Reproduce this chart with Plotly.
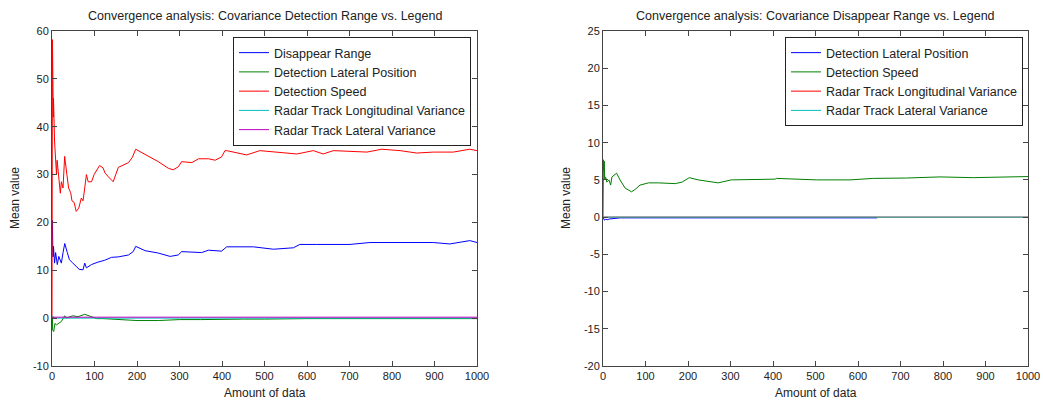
import plotly.graph_objects as go

# ---------------- Left chart data ----------------
left_title = "Convergence analysis: Covariance Detection Range vs. Legend"
left_names = ["Disappear Range", "Detection Lateral Position", "Detection Speed",
              "Radar Track Longitudinal Variance", "Radar Track Lateral Variance"]

l_blue_x = [1, 1.5, 2, 2.5, 3, 3.5, 4, 6, 8.5, 12.5, 16, 22, 26, 30, 36, 41, 49, 57, 64,
            73, 77, 81, 93, 108, 124, 140, 156, 180, 191, 197, 219, 250, 278, 297, 305,
            352, 368, 399, 407, 411, 474, 505, 521, 568, 583, 623, 701, 748, 819, 897,
            936, 983, 1000]
l_blue_y = [20.5, 15.7, 12.8, 15.2, 13.0, 15.0, 12.9, 11.5, 13.7, 11.2, 12.9, 11.5, 13.7,
            15.6, 13.7, 12.2, 11.5, 10.8, 10.2, 10.1, 11.5, 10.5, 11.2, 11.7, 12.1, 12.7,
            12.8, 13.2, 13.9, 15.0, 14.1, 13.6, 12.9, 13.2, 13.9, 13.7, 14.2, 14.0, 14.7,
            14.9, 14.9, 14.6, 14.4, 14.7, 15.4, 15.4, 15.4, 15.8, 15.8, 15.8, 15.5, 16.2,
            15.8]

l_green_x = [1, 1.5, 4, 7, 10.5, 16, 22, 30, 33, 49, 61, 77, 93, 105, 120, 160, 200, 250,
             300, 350, 400, 450, 500, 550, 600, 650, 700, 750, 800, 850, 900, 950, 1000]
l_green_y = [0.3, -2.5, -2.8, -1.1, -1.4, -1.1, -0.7, 0.5, 0.0, 0.5, 0.3, 0.8, 0.3, -0.1,
             -0.1, -0.3, -0.5, -0.5, -0.3, -0.3, -0.2, -0.2, -0.2, -0.1, -0.1, -0.1,
             -0.1, -0.1, -0.1, -0.1, -0.1, -0.1, -0.1]

l_red_x = [0, 1, 1.5, 2, 2.5, 3, 3.5, 6, 8.5, 10.5, 12, 16.5, 19.6, 22, 25.9, 29.8, 32,
           35, 39, 44, 47, 52, 57, 63, 69, 73, 77, 81, 85, 93, 99, 105, 112, 120, 125,
           133, 144, 156, 168, 180, 189, 197, 207, 227, 250, 274, 285, 297, 305, 329,
           345, 368, 384, 399, 407, 411, 458, 489, 544, 576, 615, 638, 662, 741, 776,
           819, 858, 897, 944, 983, 1000]
l_red_y = [0.0, 58.2, 45.0, 42.0, 47.0, 42.0, 46.0, 37.0, 34.2, 30.1, 33.0, 27.9, 26.1,
           28.5, 27.2, 33.8, 31.4, 30.0, 27.2, 26.2, 24.5, 24.2, 22.3, 23.0, 25.1, 24.5,
           27.2, 30.0, 28.5, 28.5, 30.0, 31.0, 31.9, 31.4, 30.3, 29.5, 28.5, 31.5, 32.0,
           32.5, 33.6, 35.3, 34.8, 33.8, 32.7, 31.3, 31.0, 31.6, 32.7, 32.5, 33.3, 33.3,
           33.0, 33.7, 35.0, 35.0, 34.1, 35.0, 34.6, 34.3, 35.0, 34.3, 35.0, 34.7, 35.3,
           35.0, 34.5, 34.7, 34.7, 35.3, 35.0]

l_cyan_x = [1, 2, 5, 10, 100, 300, 500, 700, 1000]
l_cyan_y = [0.5, 0.3, 0.1, 0.0, 0.0, 0.0, 0.0, 0.0, 0.0]

l_mag_x = [1, 250, 500, 750, 1000]
l_mag_y = [0.2, 0.2, 0.2, 0.2, 0.2]

# ---------------- Right chart data ----------------
right_title = "Convergence analysis: Covariance Disappear Range vs. Legend"
right_names = ["Detection Lateral Position", "Detection Speed",
               "Radar Track Longitudinal Variance", "Radar Track Lateral Variance"]

r_blue_x = [1, 3, 6, 10, 15, 20, 30, 40, 100, 300, 500, 645]
r_blue_y = [-0.1, -0.4, -0.3, -0.35, -0.25, -0.2, -0.1, -0.1, -0.1, -0.1, -0.1, -0.1]

r_green_x = [0, 1, 2, 3, 4, 6, 9, 14, 18, 21, 32, 40, 52, 67, 75, 87, 107, 130, 154, 170,
             186, 203, 224, 271, 302, 349, 405, 408, 502, 581, 636, 714, 793, 871, 950, 1000]
r_green_y = [0.0, 7.7, 6.3, 7.5, 5.0, 5.4, 4.7, 5.0, 4.3, 5.4, 5.9, 5.0, 3.9, 3.4, 3.7, 4.3,
             4.6, 4.6, 4.6, 4.5, 4.7, 5.3, 5.0, 4.6, 5.0, 5.0, 5.1, 5.2, 5.0, 5.0, 5.2, 5.25,
             5.4, 5.3, 5.4, 5.45]

r_red_x = [1, 500, 1000]
r_red_y = [0.0, 0.0, 0.0]

r_cyan_x = [1, 250, 500, 750, 1000]
r_cyan_y = [0.0, 0.0, 0.0, 0.0, 0.0]

# ---------------- Tick labels ----------------
x_ticks = [0, 100, 200, 300, 400, 500, 600, 700, 800, 900, 1000]
left_y_ticks = [-10, 0, 10, 20, 30, 40, 50, 60]
right_y_ticks = [-20, -15, -10, -5, 0, 5, 10, 15, 20, 25]

BLUE = "rgb(0,0,255)"
GREEN = "rgb(0,128,0)"
RED = "rgb(255,0,0)"
CYAN = "rgb(0,191,191)"
MAGENTA = "rgb(191,0,191)"

W, H = 1043, 401
FONT = "Liberation Sans, Arial, sans-serif"
AXC = "#444444"
TXT = "#222222"

fig = go.Figure()

def add(x, y, name, color, xa, ya, leg):
    fig.add_trace(go.Scatter(x=x, y=y, name=name, mode="lines",
                             line=dict(color=color, width=1),
                             xaxis=xa, yaxis=ya, legend=leg))

add(l_blue_x, l_blue_y, left_names[0], BLUE, "x", "y", "legend")
add(l_green_x, l_green_y, left_names[1], GREEN, "x", "y", "legend")
add(l_red_x, l_red_y, left_names[2], RED, "x", "y", "legend")
add(l_cyan_x, l_cyan_y, left_names[3], CYAN, "x", "y", "legend")
add(l_mag_x, l_mag_y, left_names[4], MAGENTA, "x", "y", "legend")

add(r_blue_x, r_blue_y, right_names[0], BLUE, "x2", "y2", "legend2")
add(r_green_x, r_green_y, right_names[1], GREEN, "x2", "y2", "legend2")
add(r_red_x, r_red_y, right_names[2], RED, "x2", "y2", "legend2")
add(r_cyan_x, r_cyan_y, right_names[3], CYAN, "x2", "y2", "legend2")

def px_x(p):
    return p / W

def px_y(p):
    return 1 - p / H

axis_common = dict(showline=True, linecolor=AXC, linewidth=1, mirror="ticks",
                   ticks="inside", ticklen=5, tickcolor=AXC, showgrid=False,
                   zeroline=False, automargin=False,
                   tickfont=dict(family=FONT, size=11, color=TXT))

fig.update_layout(
    width=W, height=H,
    margin=dict(l=0, r=0, t=0, b=0, autoexpand=False),
    paper_bgcolor="white", plot_bgcolor="white",
    font=dict(family=FONT, size=12, color=TXT),
    xaxis=dict(domain=[px_x(52), px_x(477)], range=[0, 1000], anchor="y",
               tickvals=x_ticks, ticktext=[str(v) for v in x_ticks], **axis_common),
    yaxis=dict(domain=[px_y(366), px_y(31)], range=[-10, 60], anchor="x",
               tickvals=left_y_ticks, ticktext=[str(v) for v in left_y_ticks], **axis_common),
    xaxis2=dict(domain=[px_x(603), px_x(1028)], range=[0, 1000], anchor="y2",
                tickvals=x_ticks, ticktext=[str(v) for v in x_ticks], **axis_common),
    yaxis2=dict(domain=[px_y(366), px_y(31)], range=[-20, 25], anchor="x2",
                tickvals=right_y_ticks, ticktext=[str(v) for v in right_y_ticks], **axis_common),
    legend=dict(x=px_x(471), y=px_y(37), xanchor="right", yanchor="top",
                bgcolor="white", bordercolor="#222222", borderwidth=1,
                font=dict(family=FONT, size=12.5, color=TXT), tracegroupgap=0),
    legend2=dict(x=px_x(1023), y=px_y(37), xanchor="right", yanchor="top",
                 bgcolor="white", bordercolor="#222222", borderwidth=1,
                 font=dict(family=FONT, size=12.5, color=TXT), tracegroupgap=0),
)

ann = []
for title, cx in [(left_title, 264.5), (right_title, 815.5)]:
    ann.append(dict(text=title, x=px_x(cx), y=px_y(16), xref="paper", yref="paper",
                    xanchor="center", yanchor="middle", showarrow=False,
                    font=dict(family=FONT, size=12.5, color=TXT)))
    ann.append(dict(text="Amount of data", x=px_x(cx), y=px_y(393), xref="paper", yref="paper",
                    xanchor="center", yanchor="middle", showarrow=False,
                    font=dict(family=FONT, size=12, color=TXT)))
for lx in [15, 566]:
    ann.append(dict(text="Mean value", x=px_x(lx), y=px_y(198), xref="paper", yref="paper",
                    xanchor="center", yanchor="middle", showarrow=False, textangle=-90,
                    font=dict(family=FONT, size=12, color=TXT)))
fig.update_layout(annotations=ann)

fig.write_html("out.html")
